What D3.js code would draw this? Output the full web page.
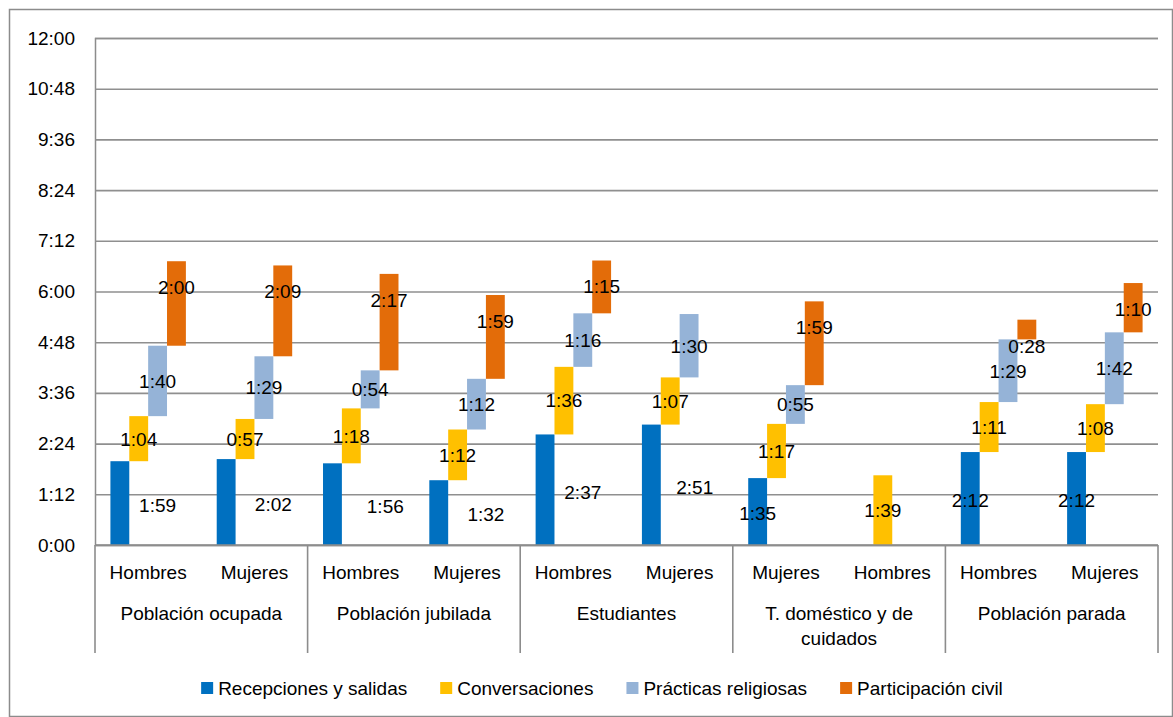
<!DOCTYPE html>
<html>
<head>
<meta charset="utf-8">
<script src="https://cdnjs.cloudflare.com/ajax/libs/d3/7.8.5/d3.min.js"></script>
<style>
  body { margin: 0; background: #fff; }
  svg text { font-family: "Liberation Sans", Arial, sans-serif; font-size: 19px; fill: #000; }
</style>
</head>
<body>
<div id="chart"></div>
<script>
// categories (two levels, in drawing order)
let groups = ["Población ocupada", "Población jubilada", "Estudiantes", "T. doméstico y de cuidados", "Población parada"];
let sexes = ["Hombres", "Mujeres", "Hombres", "Mujeres", "Hombres", "Mujeres", "Mujeres", "Hombres", "Hombres", "Mujeres"];

// series names and values (h:mm), null = no bar
let seriesNames = ["Recepciones y salidas", "Conversaciones", "Prácticas religiosas", "Participación civil"];
let recepciones   = ["1:59", "2:02", "1:56", "1:32", "2:37", "2:51", "1:35", null,   "2:12", "2:12"];
let conversaciones = ["1:04", "0:57", "1:18", "1:12", "1:36", "1:07", "1:17", "1:39", "1:11", "1:08"];
let practicas     = ["1:40", "1:29", "0:54", "1:12", "1:16", "1:30", "0:55", null,   "1:29", "1:42"];
let participacion = ["2:00", "2:09", "2:17", "1:59", "1:15", null,   "1:59", null,   "0:28", "1:10"];

let yTicks = ["0:00", "1:12", "2:24", "3:36", "4:48", "6:00", "7:12", "8:24", "9:36", "10:48", "12:00"];

let colors = ["#0070C0", "#FFC000", "#95B3D7", "#E36C09"];
// sideways nudge of the first series' labels, in bar widths
let firstLabelShift = [2, 2.5, 2.8, 2.5, 2, 2.3, 0, 0, 0, 0];

let width = 1173, height = 717;
let padLeft = 95, padRight = 1158, padTop = 38, padBottom = 545;

function toMin(s) { if (!s) return 0; let p = s.split(":"); return (+p[0]) * 60 + (+p[1]); }
function fmt(m) { let h = Math.floor(m / 60), mm = m % 60; return h + ":" + (mm < 10 ? "0" : "") + mm; }

let allSeries = [recepciones, conversaciones, practicas, participacion];
let ids = sexes.map(function (d, i) { return i; });

// stacked rows: each bar starts where the previous series ended
let bars = [];
ids.forEach(function (i) {
  let base = 0;
  allSeries.forEach(function (s, k) {
    let v = toMin(s[i]);
    if (v > 0) bars.push({ cat: i, k: k, y0: base, y1: base + v, v: v });
    base += v;
  });
});

let svg = d3.select("#chart").append("svg")
  .attr("width", width)
  .attr("height", height);

svg.append("rect")
  .attr("x", 9.5).attr("y", 9.5)
  .attr("width", 1163).attr("height", 707)
  .attr("fill", "#fff")
  .attr("stroke", "#8c8c8c")
  .attr("stroke-width", 1.5);

let yscale = d3.scaleLinear().domain([0, 720]).range([padBottom, padTop]);
let x0 = d3.scaleBand().domain(ids).range([padLeft, padRight]).paddingInner(0.29).paddingOuter(0.145);
let x1 = d3.scaleBand().domain([0, 1, 2, 3]).range([0, x0.bandwidth()]);

// gridlines + y labels
let yAxis = d3.axisLeft(yscale)
  .tickValues(yTicks.map(toMin))
  .tickFormat(fmt)
  .tickSize(-(padRight - padLeft))
  .tickPadding(20);

let gy = svg.append("g")
  .attr("transform", "translate(" + padLeft + ",0)")
  .call(yAxis);
gy.select(".domain").attr("stroke", "#8c8c8c").attr("stroke-width", 1.5);
gy.selectAll(".tick line").attr("stroke", "#8f8f8f").attr("stroke-width", 1.6);
gy.selectAll(".tick text").attr("font-size", 19).attr("font-family", "Liberation Sans, Arial, sans-serif").attr("fill", "#000");

// bars
svg.selectAll("rect.bar")
  .data(bars)
  .enter()
  .append("rect")
  .attr("class", "bar")
  .attr("x", function (d) { return x0(d.cat) + x1(d.k); })
  .attr("width", x1.bandwidth())
  .attr("y", function (d) { return yscale(d.y1); })
  .attr("height", function (d) { return yscale(d.y0) - yscale(d.y1); })
  .attr("fill", function (d) { return colors[d.k]; });

// data labels
svg.selectAll("text.lab")
  .data(bars)
  .enter()
  .append("text")
  .attr("class", "lab")
  .attr("text-anchor", "middle")
  .attr("dy", "0.36em")
  .attr("x", function (d) {
    let cx = x0(d.cat) + x1(d.k) + x1.bandwidth() / 2;
    if (d.k === 0) cx += firstLabelShift[d.cat] * x1.bandwidth();
    return cx;
  })
  .attr("y", function (d) {
    if (d.k === 3) return yscale(d.y1) + 26;
    let cy = (yscale(d.y0) + yscale(d.y1)) / 2;
    if (d.k === 0) cy += 2;
    return cy;
  })
  .text(function (d) { return fmt(d.v); });

// category axis (two levels)
let axisY2 = 653;
svg.append("line")
  .attr("x1", padLeft).attr("x2", padRight)
  .attr("y1", padBottom).attr("y2", padBottom)
  .attr("stroke", "#8c8c8c").attr("stroke-width", 1.6);

let step = x0.step();
d3.range(groups.length + 1).forEach(function (g) {
  let xx = padLeft + g * step * 2;
  svg.append("line")
    .attr("x1", xx).attr("x2", xx)
    .attr("y1", padBottom).attr("y2", axisY2)
    .attr("stroke", "#8c8c8c").attr("stroke-width", 1.6);
});

svg.selectAll("text.sub")
  .data(sexes)
  .enter()
  .append("text")
  .attr("class", "sub")
  .attr("text-anchor", "middle")
  .attr("x", function (d, i) { return padLeft + (i + 0.5) * step; })
  .attr("y", 572)
  .attr("dy", "0.36em")
  .text(function (d) { return d; });

groups.forEach(function (g, gi) {
  let cx = padLeft + (gi + 0.5) * step * 2;
  let t = svg.append("text")
    .attr("text-anchor", "middle")
    .attr("x", cx)
    .attr("y", 613);
  // simple word wrap
  let words = g.split(" "), line = [];
  let ts = t.append("tspan").attr("x", cx).attr("dy", "0.36em");
  words.forEach(function (w) {
    line.push(w);
    ts.text(line.join(" "));
    if (ts.node().getComputedTextLength() > 190 && line.length > 1) {
      line.pop();
      ts.text(line.join(" "));
      line = [w];
      ts = t.append("tspan").attr("x", cx).attr("dy", "1.3em").text(w);
    }
  });
});

// legend
let legend = svg.append("g");
let lx = 0;
seriesNames.forEach(function (n, k) {
  let item = legend.append("g").attr("transform", "translate(" + lx + ",0)");
  item.append("rect").attr("x", 0).attr("y", -6).attr("width", 12).attr("height", 12).attr("fill", colors[k]);
  let t = item.append("text").attr("x", 17).attr("dy", "0.36em").text(n);
  lx += 17 + t.node().getComputedTextLength() + 33;
});
lx -= 33;
legend.attr("transform", "translate(" + (602 - lx / 2) + ",688)");
</script>
</body>
</html>
